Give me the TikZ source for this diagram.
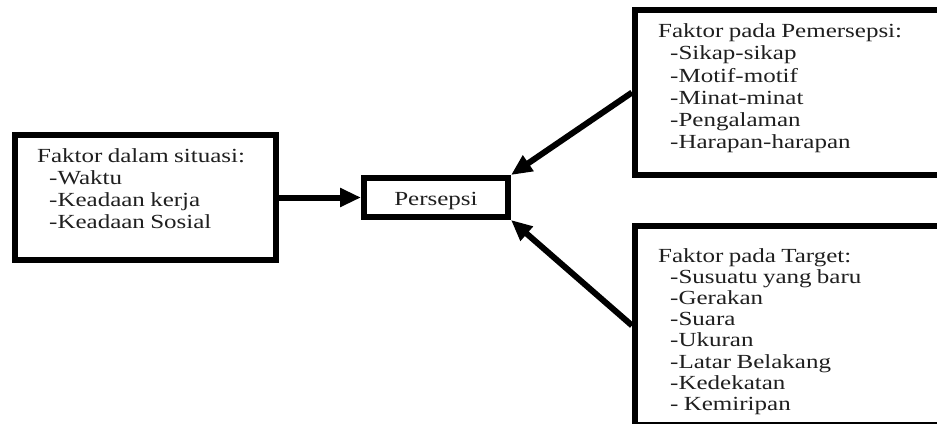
\documentclass[tikz,border=0pt]{standalone}
\usepackage{fontspec}
\setmainfont{Liberation Serif}[FakeStretch=1.25,WordSpace=0.85]
\usetikzlibrary{arrows.meta}
\begin{document}
\begin{tikzpicture}[x=1pt,y=-1pt,
  box/.style={draw=black,line width=6pt,fill=white,inner sep=0pt,rectangle},
  txt/.style={anchor=base west,inner sep=0pt,font=\fontsize{20}{22}\selectfont,text=black!88},
  arr/.style={line width=6pt,-{Triangle[length=21pt,width=18pt]}}]
\useasboundingbox (0,0) rectangle (937,423);
\clip (0,0) rectangle (937,423);
% boxes
\node[box,minimum width=261pt,minimum height=125pt] (sit) at (145.5,197.5) {};
\node[box,minimum width=144pt,minimum height=39pt,text height=18pt,text depth=3pt,
      font=\fontsize{20}{22}\selectfont,text=black!88] (per) at (436,197.5) {Persepsi};
\node[box,minimum width=310pt,minimum height=165pt] (pem) at (790,92.5) {};
\node[box,minimum width=310pt,minimum height=199pt] (tgt) at (790,325.5) {};
% texts: situation
\node[txt] (s0) at (37,162) {Faktor dalam situasi:};
\node[txt] (s1) at (49,184) {-Waktu};
\node[txt] (s2) at (49,206) {-Keadaan kerja};
\node[txt] (s3) at (49,228) {-Keadaan Sosial};
% texts: perceiver
\node[txt] (p0) at (658,37) {Faktor pada Pemersepsi:};
\node[txt] (p1) at (670,59.5) {-Sikap-sikap};
\node[txt] (p2) at (670,82) {-Motif-motif};
\node[txt] (p3) at (670,104) {-Minat-minat};
\node[txt] (p4) at (670,126) {-Pengalaman};
\node[txt] (p5) at (670,148) {-Harapan-harapan};
% texts: target
\node[txt] (t0) at (658,262) {Faktor pada Target:};
\node[txt] (t1) at (670,283.2) {-Susuatu yang baru};
\node[txt] (t2) at (670,304.4) {-Gerakan};
\node[txt] (t3) at (670,325.6) {-Suara};
\node[txt] (t4) at (670,346.8) {-Ukuran};
\node[txt] (t5) at (670,368) {-Latar Belakang};
\node[txt] (t6) at (670,389.2) {-Kedekatan};
\node[txt] (t7) at (670,410.4) {- Kemiripan};
% arrows
\draw[arr] (sit.east) -- (per.west);
\draw[arr] (pem.west) -- (per.north east);
\draw[arr] (tgt.west) -- (per.south east);
\end{tikzpicture}
\end{document}
